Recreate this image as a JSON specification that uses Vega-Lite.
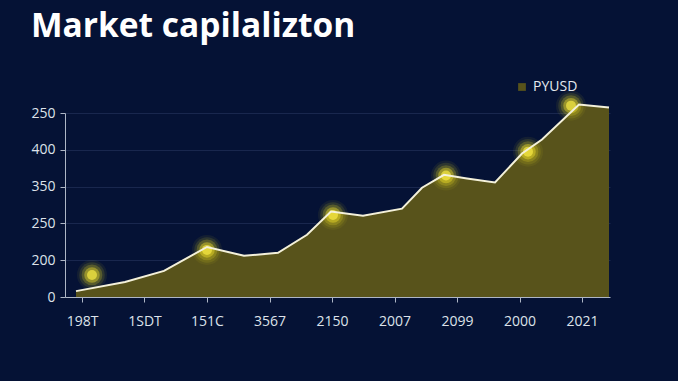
{
  "$schema": "https://vega.github.io/schema/vega-lite/v6.json",
  "width": 545,
  "height": 184,
  "autosize": {"type": "none"},
  "padding": {"left": 65, "top": 113, "right": 68, "bottom": 84},
  "background": "#051235",
  "title": {
    "text": "Market capilalizton",
    "anchor": "start",
    "frame": "group",
    "orient": "top",
    "offset": 36,
    "dx": -34,
    "font": "Open Sans",
    "fontSize": 33.5,
    "fontWeight": "bold",
    "color": "#ffffff"
  },
  "config": {
    "view": {"stroke": null},
    "axis": {
      "labelFont": "Open Sans",
      "labelFontSize": 14,
      "labelColor": "#dde2ea",
      "domainColor": "#aeb6c6",
      "tickColor": "#aeb6c6",
      "gridColor": "#22305a",
      "gridOpacity": 0.7,
      "title": null
    }
  },
  "datasets": {
    "line": [
      {"x": -0.096, "y": 0.16, "series": "PYUSD"},
      {"x": 0.688, "y": 0.41, "series": "PYUSD"},
      {"x": 1.312, "y": 0.71, "series": "PYUSD"},
      {"x": 2.0, "y": 1.36, "series": "PYUSD"},
      {"x": 2.592, "y": 1.12, "series": "PYUSD"},
      {"x": 3.136, "y": 1.2, "series": "PYUSD"},
      {"x": 3.6, "y": 1.69, "series": "PYUSD"},
      {"x": 3.984, "y": 2.32, "series": "PYUSD"},
      {"x": 4.496, "y": 2.21, "series": "PYUSD"},
      {"x": 5.12, "y": 2.4, "series": "PYUSD"},
      {"x": 5.44, "y": 2.97, "series": "PYUSD"},
      {"x": 5.792, "y": 3.32, "series": "PYUSD"},
      {"x": 6.16, "y": 3.22, "series": "PYUSD"},
      {"x": 6.608, "y": 3.11, "series": "PYUSD"},
      {"x": 7.04, "y": 3.9, "series": "PYUSD"},
      {"x": 7.36, "y": 4.28, "series": "PYUSD"},
      {"x": 7.952, "y": 5.23, "series": "PYUSD"},
      {"x": 8.432, "y": 5.15, "series": "PYUSD"}
    ],
    "glow": [
      {"x": 0.16, "y": 0.6},
      {"x": 2.0, "y": 1.28},
      {"x": 4.016, "y": 2.23},
      {"x": 5.824, "y": 3.3},
      {"x": 7.136, "y": 3.95},
      {"x": 7.824, "y": 5.2}
    ]
  },
  "encoding": {
    "x": {
      "field": "x",
      "type": "quantitative",
      "scale": {"domain": [-0.272, 8.448], "nice": false, "zero": false},
      "axis": {
        "values": [0, 1, 2, 3, 4, 5, 6, 7, 8],
        "grid": false,
        "tickSize": 5,
        "labelPadding": 12,
        "labelExpr": "['198T','1SDT','151C','3567','2150','2007','2099','2000','2021'][datum.value]"
      }
    },
    "y": {
      "field": "y",
      "type": "quantitative",
      "scale": {"domain": [0, 5], "nice": false},
      "axis": {
        "values": [0, 1, 2, 3, 4, 5],
        "grid": true,
        "tickSize": 5,
        "labelPadding": 5,
        "labelExpr": "['0','200','250','350','400','250'][datum.value]"
      }
    }
  },
  "layer": [
    {
      "data": {"name": "line"},
      "mark": {"type": "area", "opacity": 1, "clip": false},
      "encoding": {
        "color": {
          "field": "series",
          "type": "nominal",
          "scale": {"range": ["#58531b"]},
          "legend": {
            "title": null,
            "orient": "none",
            "legendX": 450,
            "legendY": -33,
            "symbolType": "square",
            "symbolSize": 60,
            "labelFont": "Open Sans",
            "labelFontSize": 14,
            "labelColor": "#e6e9ef",
            "encode": {"symbols": {"update": {"fill": {"value": "#d2cf6e"}, "stroke": {"value": "#e8e6b0"}, "strokeWidth": {"value": 1}}}}
          }
        }
      }
    },
    {
      "data": {"name": "glow"},
      "mark": {"type": "point", "filled": true, "size": 900, "opacity": 0.07, "color": "#e8d820"}
    },
    {
      "data": {"name": "glow"},
      "mark": {"type": "point", "filled": true, "size": 650, "opacity": 0.12, "color": "#eada20"}
    },
    {
      "data": {"name": "glow"},
      "mark": {"type": "point", "filled": true, "size": 430, "opacity": 0.22, "color": "#eedd24"}
    },
    {
      "data": {"name": "glow"},
      "mark": {"type": "point", "filled": true, "size": 240, "opacity": 0.42, "color": "#f3e22c"}
    },
    {
      "data": {"name": "glow"},
      "mark": {"type": "point", "filled": true, "size": 100, "opacity": 0.7, "color": "#f8ea44"}
    },
    {
      "data": {"name": "line"},
      "mark": {"type": "line", "color": "#f4f1da", "strokeWidth": 2, "clip": false}
    }
  ]
}
